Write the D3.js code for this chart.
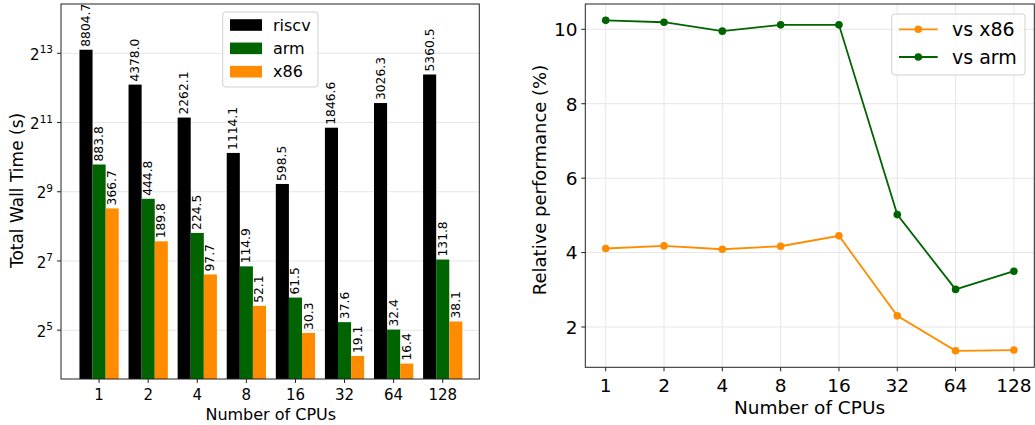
<!DOCTYPE html>
<html>
<head>
<meta charset="utf-8">
<script src="https://cdn.jsdelivr.net/npm/d3@7"></script>
<style>
  html, body { margin: 0; padding: 0; background: #fff; }
  svg { display: block; font-family: "DejaVu Sans", sans-serif; }
</style>
</head>
<body>
<svg id="chart" width="1035" height="425"></svg>
<script>
// CPU counts on the x axis of both panels
const cpus = ["1", "2", "4", "8", "16", "32", "64", "128"];

// Total wall time in seconds per architecture
const riscv = [8804.7, 4378.0, 2262.1, 1114.1, 598.5, 1846.6, 3026.3, 5360.5];
const arm   = [883.8, 444.8, 224.5, 114.9, 61.5, 37.6, 32.4, 131.8];
const x86   = [366.7, 189.8, 97.7, 52.1, 30.3, 19.1, 16.4, 38.1];

// Relative performance of riscv (%)
const vsX86 = [4.11, 4.18, 4.09, 4.17, 4.45, 2.30, 1.36, 1.38];
const vsArm = [10.24, 10.19, 9.95, 10.12, 10.12, 5.02, 3.01, 3.50];

// Axis tick values
const wallTickExps = [5, 7, 9, 11, 13];
const perfTicks = [2, 4, 6, 8, 10];

const barSeries = [
  { name: "riscv", values: riscv, color: "#000000" },
  { name: "arm",   values: arm,   color: "#006400" },
  { name: "x86",   values: x86,   color: "#ff8c00" }
];
const lineSeries = [
  { name: "vs x86", values: vsX86, color: "#ff8c00" },
  { name: "vs arm", values: vsArm, color: "#006400" }
];

const svg = d3.select("#chart");
const GRID = "#e6e6e6";
const SPINE = "#222";

// ---------- Left panel: wall time bars on log2 scale ----------
const L = { left: 61, right: 479.3, top: 4, bottom: 379 };
const xL = d3.scaleLinear().domain([-0.776, 7.745]).range([L.left, L.right]);
const yL = d3.scaleLog().base(2).domain([Math.pow(2, 3.59), Math.pow(2, 14.425)]).range([L.bottom, L.top]);
const step = xL(1) - xL(0);
const barW = step * 0.8 / 3;

const gL = svg.append("g");

// horizontal grid
gL.append("g").selectAll("line").data(wallTickExps).join("line")
  .attr("x1", L.left).attr("x2", L.right)
  .attr("y1", d => yL(Math.pow(2, d))).attr("y2", d => yL(Math.pow(2, d)))
  .attr("stroke", GRID).attr("stroke-width", 1);

// bars and value labels
barSeries.forEach((s, si) => {
  const g = gL.append("g");
  const cx = i => xL(i) + (si - 1) * barW;
  g.selectAll("rect").data(s.values).join("rect")
    .attr("x", (d, i) => cx(i) - barW / 2)
    .attr("width", barW)
    .attr("y", d => yL(d))
    .attr("height", d => L.bottom - yL(d))
    .attr("fill", s.color);
  g.selectAll("text").data(s.values).join("text")
    .attr("transform", (d, i) => `translate(${cx(i)},${yL(d) - 3}) rotate(-90)`)
    .attr("dominant-baseline", "central")
    .attr("text-anchor", "start")
    .attr("font-size", 12.3)
    .attr("fill", "#000")
    .text(d => d3.format(".1f")(d));
});

// frame
gL.append("rect")
  .attr("x", L.left).attr("y", L.top)
  .attr("width", L.right - L.left).attr("height", L.bottom - L.top)
  .attr("fill", "none").attr("stroke", SPINE).attr("stroke-width", 1);

// x ticks
const xtL = gL.append("g");
cpus.forEach((c, i) => {
  xtL.append("line").attr("x1", xL(i)).attr("x2", xL(i))
    .attr("y1", L.bottom).attr("y2", L.bottom + 4).attr("stroke", SPINE);
  xtL.append("text").attr("x", xL(i)).attr("y", 399.7)
    .attr("text-anchor", "middle").attr("font-size", 15).text(c);
});

// y ticks with power-of-two labels
const ytL = gL.append("g");
wallTickExps.forEach(e => {
  const y = yL(Math.pow(2, e));
  ytL.append("line").attr("x1", L.left - 4).attr("x2", L.left)
    .attr("y1", y).attr("y2", y).attr("stroke", SPINE);
  const t = ytL.append("text").attr("x", 53).attr("y", y + 6.7)
    .attr("text-anchor", "end").attr("font-size", 15);
  t.append("tspan").text("2");
  t.append("tspan").attr("font-size", 10.5).attr("dy", -6.7).text(String(e));
});

// axis titles
gL.append("text").attr("x", 270.8).attr("y", 420)
  .attr("text-anchor", "middle").attr("font-size", 16).text("Number of CPUs");
gL.append("text").attr("transform", "translate(23,190.5) rotate(-90)")
  .attr("text-anchor", "middle").attr("font-size", 17).text("Total Wall Time (s)");

// legend
const legL = gL.append("g");
legL.append("rect").attr("x", 222.7).attr("y", 12).attr("width", 95.3).attr("height", 75)
  .attr("rx", 3).attr("fill", "#fff").attr("fill-opacity", 0.8)
  .attr("stroke", "#d0d0d0");
barSeries.forEach((s, i) => {
  const cy = 25 + i * 23.35;
  legL.append("rect").attr("x", 230).attr("y", cy - 5.8).attr("width", 32).attr("height", 11.6)
    .attr("fill", s.color);
  legL.append("text").attr("x", 273).attr("y", cy).attr("dominant-baseline", "central")
    .attr("font-size", 16).text(s.name);
});

// ---------- Right panel: relative performance lines ----------
const R = { left: 585.3, right: 1034.3, top: 4, bottom: 367.3 };
const xR = d3.scaleLinear().domain([-0.35, 7.35]).range([R.left, R.right]);
const yR = d3.scaleLinear().domain([0.917, 10.68]).range([R.bottom, R.top]);

const gR = svg.append("g");

// grid
gR.append("g").selectAll("line").data(perfTicks).join("line")
  .attr("x1", R.left).attr("x2", R.right)
  .attr("y1", d => yR(d)).attr("y2", d => yR(d))
  .attr("stroke", GRID);
gR.append("g").selectAll("line").data(cpus).join("line")
  .attr("x1", (d, i) => xR(i)).attr("x2", (d, i) => xR(i))
  .attr("y1", R.top).attr("y2", R.bottom)
  .attr("stroke", GRID);

// lines with markers
const line = d3.line().x((d, i) => xR(i)).y(d => yR(d));
lineSeries.forEach(s => {
  gR.append("path").datum(s.values).attr("d", line)
    .attr("fill", "none").attr("stroke", s.color).attr("stroke-width", 1.8);
  gR.append("g").selectAll("circle").data(s.values).join("circle")
    .attr("cx", (d, i) => xR(i)).attr("cy", d => yR(d)).attr("r", 3.8)
    .attr("fill", s.color);
});

// frame
gR.append("rect")
  .attr("x", R.left).attr("y", R.top)
  .attr("width", R.right - R.left).attr("height", R.bottom - R.top)
  .attr("fill", "none").attr("stroke", SPINE).attr("stroke-width", 1);

// ticks
cpus.forEach((c, i) => {
  gR.append("line").attr("x1", xR(i)).attr("x2", xR(i))
    .attr("y1", R.bottom).attr("y2", R.bottom + 4).attr("stroke", SPINE);
  gR.append("text").attr("x", xR(i)).attr("y", 391.7)
    .attr("text-anchor", "middle").attr("font-size", 18.5).text(c);
});
perfTicks.forEach(v => {
  gR.append("line").attr("x1", R.left - 4).attr("x2", R.left)
    .attr("y1", yR(v)).attr("y2", yR(v)).attr("stroke", SPINE);
  gR.append("text").attr("x", 577.5).attr("y", yR(v) + 6.8)
    .attr("text-anchor", "end").attr("font-size", 18.5).text(v);
});

// axis titles
gR.append("text").attr("x", 809.5).attr("y", 414)
  .attr("text-anchor", "middle").attr("font-size", 18.5).text("Number of CPUs");
gR.append("text").attr("transform", "translate(546,180) rotate(-90)")
  .attr("text-anchor", "middle").attr("font-size", 18).text("Relative performance (%)");

// legend
const legR = gR.append("g");
legR.append("rect").attr("x", 891.7).attr("y", 14).attr("width", 133.3).attr("height", 61)
  .attr("rx", 3).attr("fill", "#fff").attr("fill-opacity", 0.8)
  .attr("stroke", "#d0d0d0");
lineSeries.forEach((s, i) => {
  const cy = 29.3 + i * 27.7;
  legR.append("line").attr("x1", 899).attr("x2", 937.7).attr("y1", cy).attr("y2", cy)
    .attr("stroke", s.color).attr("stroke-width", 1.8);
  legR.append("circle").attr("cx", 918.3).attr("cy", cy).attr("r", 3.8).attr("fill", s.color);
  legR.append("text").attr("x", 952).attr("y", cy).attr("dominant-baseline", "central")
    .attr("font-size", 19).text(s.name);
});
</script>
</body>
</html>
